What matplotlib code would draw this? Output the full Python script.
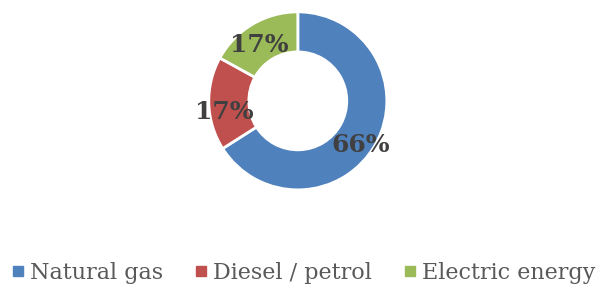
import numpy as np
import matplotlib
matplotlib.use("Agg")
import matplotlib.pyplot as plt
from matplotlib.lines import Line2D

OUTPUT_FILE = "out.png"

categories = ["Natural gas", "Diesel / petrol", "Electric energy"]
shares = [66, 17, 17]
colors = ["#4f81bd", "#c0504d", "#9bbb59"]

# where each percentage sits: fraction of outer radius, and shift from wedge middle (deg)
label_radius = [0.86, 0.83, 0.76]
label_shift = [-6, 7, 4]

plt.rcParams['font.family'] = ['DejaVu Serif']

fig = plt.figure(figsize=(6.0, 2.89), dpi=100)
ax = fig.add_axes([0.348, 0.343, 0.2967, 0.616])

wedges, _ = ax.pie(shares, colors=colors, startangle=90, counterclock=False,
                   radius=1.0,
                   wedgeprops=dict(width=0.45, edgecolor="white", linewidth=2))

for w, s, r, d in zip(wedges, shares, label_radius, label_shift):
    mid = np.deg2rad((w.theta1 + w.theta2) / 2 + d)
    ax.text(r * np.cos(mid), r * np.sin(mid), f"{s}%", ha="center", va="center",
            fontsize=18, fontweight="bold", color="#404040")

ax.set_xlim(-1, 1)
ax.set_ylim(-1, 1)
ax.set_aspect("equal")
ax.axis("off")

handles = [Line2D([0], [0], marker="s", linestyle="none", markersize=6.5,
                  markerfacecolor=c, markeredgecolor=c) for c in colors]
fig.legend(handles, categories, loc="center", bbox_to_anchor=(0.506, 0.056),
           ncol=3, frameon=False, fontsize=16, handlelength=0.5,
           handletextpad=0.3, columnspacing=1.45, labelcolor="#595959",
           borderaxespad=0, borderpad=0)

fig.savefig(OUTPUT_FILE, dpi=100)
